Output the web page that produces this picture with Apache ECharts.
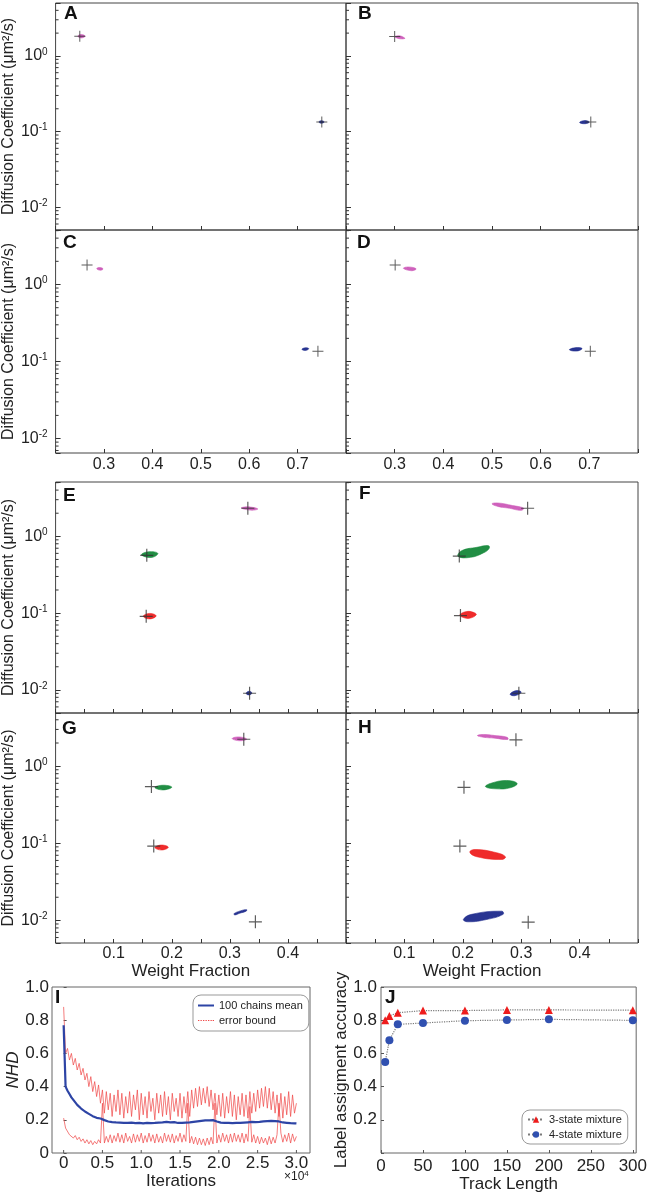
<!DOCTYPE html>
<html><head><meta charset="utf-8">
<script src="https://cdn.jsdelivr.net/npm/echarts@6/dist/echarts.min.js"></script>
<style>html,body{margin:0;padding:0;background:#fff}#c{width:650px;height:1194px}</style>
</head><body><div id="c"></div>
<script>
// ---------- DATA ----------
// True values (+) per panel: [weight fraction, diffusion coefficient]
const A_truth = [[0.25,1.82],[0.75,0.134]];
const B_truth = [[0.3,1.8],[0.703,0.134]];
const C_truth = [[0.265,1.79],[0.742,0.136]];
const D_truth = [[0.301,1.79],[0.702,0.136]];
const E_truth = [[0.331,2.32],[0.157,0.565],[0.156,0.0908],[0.334,0.00905]];
const F_truth = [[0.311,2.32],[0.194,0.553],[0.196,0.0928],[0.296,0.00905]];
const G_truth = [[0.324,2.24],[0.165,0.545],[0.169,0.0922],[0.344,0.0096]];
const H_truth = [[0.291,2.2],[0.202,0.533],[0.195,0.0922],[0.312,0.0095]];
// Posterior sample clouds, outlines: [weight fraction, diffusion coefficient]
const A_pink  = [[0.246,1.82],[0.253,1.92],[0.261,1.82],[0.253,1.73]];
const A_blue  = [[0.744,0.134],[0.749,0.139],[0.755,0.134],[0.749,0.129]];
const B_pink  = [[0.300,1.8],[0.31,1.84],[0.319,1.75],[0.321,1.70],[0.312,1.68],[0.303,1.74]];
const B_blue  = [[0.68,0.132],[0.688,0.139],[0.698,0.137],[0.699,0.131],[0.688,0.127]];
const C_pink  = [[0.285,1.6],[0.29,1.66],[0.298,1.6],[0.293,1.53]];
const C_blue  = [[0.709,0.144],[0.716,0.151],[0.723,0.147],[0.716,0.139]];
const D_pink  = [[0.318,1.62],[0.328,1.69],[0.344,1.6],[0.335,1.51]];
const D_blue  = [[0.659,0.142],[0.67,0.151],[0.685,0.148],[0.675,0.137]];
const E_pink  = [[0.32,2.33],[0.33,2.42],[0.348,2.28],[0.338,2.19]];
const E_green = [[0.148,0.575],[0.16,0.63],[0.176,0.6],[0.165,0.53]];
const E_red   = [[0.151,0.091],[0.162,0.099],[0.173,0.092],[0.162,0.084]];
const E_blue  = [[0.328,0.009],[0.333,0.0096],[0.338,0.0091],[0.333,0.0086]];
const F_pink  = [[0.25,2.65],[0.26,2.72],[0.285,2.52],[0.304,2.33],[0.3,2.18],[0.28,2.32],[0.26,2.45]];
const F_green = [[0.192,0.548],[0.198,0.65],[0.224,0.719],[0.244,0.756],[0.245,0.692],[0.235,0.607],[0.213,0.532]];
const F_red   = [[0.195,0.095],[0.207,0.105],[0.22,0.101],[0.223,0.095],[0.212,0.086],[0.2,0.088]];
const F_blue  = [[0.281,0.0088],[0.292,0.0098],[0.3,0.0093],[0.289,0.0084]];
const G_pink  = [[0.304,2.28],[0.315,2.4],[0.329,2.25],[0.317,2.14]];
const G_green = [[0.171,0.53],[0.185,0.567],[0.2,0.535],[0.185,0.493]];
const G_red   = [[0.171,0.088],[0.182,0.095],[0.194,0.089],[0.183,0.082]];
const G_blue  = [[0.307,0.0122],[0.318,0.0133],[0.329,0.0138],[0.328,0.0132],[0.317,0.0124],[0.309,0.0118]];
const H_pink  = [[0.225,2.5],[0.235,2.58],[0.255,2.5],[0.276,2.37],[0.277,2.22],[0.255,2.31],[0.235,2.38]];
const H_green = [[0.239,0.541],[0.247,0.597],[0.275,0.653],[0.293,0.597],[0.281,0.525],[0.258,0.509]];
const H_red   = [[0.212,0.0769],[0.221,0.0832],[0.258,0.0755],[0.273,0.067],[0.267,0.0618],[0.224,0.067]];
const H_blue  = [[0.201,0.0103],[0.215,0.012],[0.267,0.0132],[0.269,0.012],[0.241,0.0103],[0.209,0.0096]];
// log-axis minor tick values
const logMinorTicks = [0.006,0.007,0.008,0.009,0.02,0.03,0.04,0.05,0.06,0.07,0.08,0.09,0.2,0.3,0.4,0.5,0.6,0.7,0.8,0.9,2,3,4,5];

// Panel I
const iterTicks = [0,5000,10000,15000,20000,25000,30000];
const iterations = [0,250,500,750,1000,1250,1500,1750,2000,2250,
2500,2750,3000,3250,3500,3750,4000,4250,4500,4750,
5000,5250,5500,5750,6000,6250,6500,6750,7000,7250,
7500,7750,8000,8250,8500,8750,9000,9250,9500,9750,
10000,10250,10500,10750,11000,11250,11500,11750,12000,12250,
12500,12750,13000,13250,13500,13750,14000,14250,14500,14750,
15000,15250,15500,15750,16000,16250,16500,16750,17000,17250,
17500,17750,18000,18250,18500,18750,19000,19250,19500,19750,
20000,20250,20500,20750,21000,21250,21500,21750,22000,22250,
22500,22750,23000,23250,23500,23750,24000,24250,24500,24750,
25000,25250,25500,25750,26000,26250,26500,26750,27000,27250,
27500,27750,28000,28250,28500,28750,29000,29250,29500,29750,
30000];
const nhdMean = [0.77,0.40,0.375,0.355,0.335,0.32,0.305,0.29,0.28,0.268,
0.258,0.25,0.242,0.236,0.228,0.222,0.218,0.212,0.206,0.208,
0.2,0.198,0.194,0.19,0.192,0.186,0.19,0.184,0.188,0.183,
0.186,0.182,0.187,0.181,0.185,0.183,0.188,0.18,0.184,0.182,
0.186,0.179,0.185,0.182,0.187,0.18,0.184,0.181,0.186,0.183,
0.18,0.185,0.182,0.188,0.181,0.184,0.179,0.186,0.183,0.181,
0.185,0.182,0.187,0.183,0.186,0.184,0.189,0.187,0.192,0.19,
0.195,0.193,0.198,0.196,0.2,0.197,0.195,0.198,0.192,0.19,
0.186,0.183,0.187,0.181,0.185,0.182,0.186,0.18,0.184,0.182,
0.185,0.181,0.186,0.183,0.18,0.185,0.182,0.187,0.183,0.186,
0.184,0.188,0.186,0.191,0.188,0.192,0.189,0.193,0.19,0.192,
0.188,0.19,0.186,0.184,0.187,0.182,0.185,0.18,0.183,0.179,
0.178];
const nhdUpper = [0.88,0.6,0.63,0.56,0.6,0.53,0.57,0.5,0.54,0.47,
0.51,0.44,0.48,0.4,0.46,0.37,0.43,0.34,0.41,0.3,
0.38,0.24,0.37,0.26,0.36,0.22,0.35,0.25,0.38,0.23,
0.36,0.21,0.34,0.24,0.37,0.22,0.35,0.26,0.38,0.2,
0.36,0.23,0.34,0.21,0.37,0.25,0.33,0.2,0.36,0.24,
0.35,0.22,0.37,0.23,0.34,0.2,0.36,0.25,0.33,0.22,
0.36,0.21,0.34,0.24,0.37,0.22,0.38,0.27,0.39,0.28,
0.4,0.29,0.39,0.3,0.4,0.28,0.38,0.26,0.36,0.23,
0.35,0.22,0.36,0.21,0.34,0.24,0.37,0.22,0.35,0.2,
0.34,0.23,0.36,0.22,0.35,0.21,0.37,0.24,0.36,0.25,
0.38,0.27,0.39,0.28,0.4,0.27,0.39,0.26,0.37,0.24,
0.35,0.22,0.36,0.21,0.34,0.23,0.37,0.22,0.35,0.24,
0.3];
const nhdLower = [0.21,0.15,0.14,0.11,0.12,0.09,0.105,0.08,0.095,0.07,
0.085,0.06,0.08,0.055,0.075,0.05,0.07,0.055,0.08,0.06,
0.3,0.06,0.1,0.065,0.11,0.06,0.105,0.07,0.12,0.065,
0.11,0.06,0.12,0.07,0.1,0.06,0.115,0.065,0.11,0.07,
0.12,0.06,0.105,0.065,0.12,0.07,0.11,0.06,0.115,0.065,
0.1,0.06,0.12,0.07,0.11,0.065,0.115,0.06,0.105,0.07,
0.12,0.065,0.11,0.07,0.3,0.06,0.1,0.055,0.095,0.05,
0.09,0.05,0.085,0.045,0.09,0.05,0.095,0.055,0.3,0.06,
0.11,0.065,0.12,0.07,0.11,0.06,0.115,0.065,0.12,0.07,
0.11,0.065,0.12,0.06,0.115,0.07,0.28,0.065,0.11,0.06,
0.1,0.055,0.095,0.06,0.09,0.05,0.1,0.055,0.095,0.06,
0.11,0.3,0.12,0.065,0.11,0.07,0.12,0.06,0.115,0.07,
0.1];

// Panel J
const trackLength = [5,10,20,50,100,150,200,300];
const acc3state = [0.80,0.826,0.845,0.858,0.858,0.862,0.862,0.86];
const acc4state = [0.548,0.679,0.775,0.783,0.797,0.801,0.805,0.799];

// ---------- STYLE / LAYOUT ----------
const FONT = '"Liberation Sans", Arial, Helvetica, sans-serif';
const TXT = '#222';
const COL = {pink:'#cc58b8', green:'#15883a', red:'#ee2020', blue:'#1e2a8c'};
const PLUS = 'path://M4.55,0H5.45V10H4.55Z M0,4.55H10V5.45H0Z';
const YNAME = 'Diffusion Coefficient (μm²/s)';

const panels = [
 {L:'A', g:{left:53,top:3,width:293,height:227},  xr:[0.2,0.8,0.1], yr:[0.005,5], yl:true,  xl:false, xn:'', ps:11, c:{pink:A_pink, blue:A_blue}, t:A_truth, lab:[64,4]},
 {L:'B', g:{left:346,top:3,width:292,height:227}, xr:[0.2,0.8,0.1], yr:[0.005,5], yl:false, xl:false, xn:'', ps:11, c:{pink:B_pink, blue:B_blue}, t:B_truth, lab:[358,4]},
 {L:'C', g:{left:53,top:230,width:293,height:223},  xr:[0.2,0.8,0.1], yr:[0.0065,5.1], yl:true,  xl:true, xn:'', ps:11, c:{pink:C_pink, blue:C_blue}, t:C_truth, lab:[63,233]},
 {L:'D', g:{left:346,top:230,width:292,height:223}, xr:[0.2,0.8,0.1], yr:[0.0065,5.1], yl:false, xl:true, xn:'', ps:11, c:{pink:D_pink, blue:D_blue}, t:D_truth, lab:[357,233]},
 {L:'E', g:{left:53,top:482,width:293,height:231},  xr:[0,0.5,0.05], yr:[0.005,5.1], yl:true,  xl:false, xn:'', ps:13, c:{pink:E_pink, green:E_green, red:E_red, blue:E_blue}, t:E_truth, lab:[63,486]},
 {L:'F', g:{left:346,top:482,width:292,height:231}, xr:[0,0.5,0.05], yr:[0.005,5.1], yl:false, xl:false, xn:'', ps:13, c:{pink:F_pink, green:F_green, red:F_red, blue:F_blue}, t:F_truth, lab:[359,484]},
 {L:'G', g:{left:53,top:713,width:293,height:230},  xr:[0,0.5,0.05], yr:[0.0051,4.9], yl:true,  xl:true, xn:'Weight Fraction', ps:13, c:{pink:G_pink, green:G_green, red:G_red, blue:G_blue}, t:G_truth, lab:[62,719]},
 {L:'H', g:{left:346,top:713,width:292,height:230}, xr:[0,0.5,0.05], yr:[0.0051,4.9], yl:false, xl:true, xn:'Weight Fraction', ps:13, c:{pink:H_pink, green:H_green, red:H_red, blue:H_blue}, t:H_truth, lab:[358,718]}
];

const grids = [], xAxes = [], yAxes = [], series = [], graphics = [];

function xFmt(p){
  if (p.xr[2] === 0.1) return v => (v > 0.21 && v < 0.79) ? v.toFixed(1) : '';
  return v => { const t = Math.round(v*20); return (t % 2 === 0 && t > 0 && t < 10) ? (t/20).toFixed(1) : ''; };
}
function logFmt(v){
  const l = Math.log10(v), e = Math.round(l);
  if (Math.abs(l - e) > 1e-6) return '';
  return '{b|10}{s|' + e + '}';
}

panels.forEach((p, i) => {
  grids.push(Object.assign({show:true, borderColor:'#444', borderWidth:1, backgroundColor:'transparent'}, p.g));
  xAxes.push({gridIndex:i, type:'value', min:p.xr[0], max:p.xr[1], interval:p.xr[2],
    axisLine:{show:false}, splitLine:{show:false},
    axisTick:{show:true, inside:true, length:4, lineStyle:{color:'#333'}},
    axisLabel:{show:p.xl, formatter:xFmt(p), fontSize:16, color:TXT, fontFamily:FONT, margin:p.xr[2]===0.1?4:3},
    name:p.xn, nameLocation:'middle', nameGap:15,
    nameTextStyle:{fontSize:17, color:TXT, fontFamily:FONT, padding:[0,20,0,0]}});
  yAxes.push({gridIndex:i, type:'log', logBase:10, min:p.yr[0], max:p.yr[1],
    axisLine:{show:false}, splitLine:{show:false}, minorTick:{show:false},
    axisTick:{show:true, inside:true, length:5, lineStyle:{color:'#333'}},
    axisLabel:{show:p.yl, formatter:logFmt, margin:8,
      rich:{b:{fontSize:16, color:TXT, fontFamily:FONT, lineHeight:18},
            s:{fontSize:10, color:TXT, fontFamily:FONT, lineHeight:10, verticalAlign:'top'}}},
    name:p.yl ? YNAME : '', nameLocation:'middle', nameGap:31,
    nameTextStyle:{fontSize:16, color:TXT, fontFamily:FONT}});
  // minor log ticks drawn through the axis scale
  series.push({type:'custom', xAxisIndex:i, yAxisIndex:i, silent:true, clip:false, z:1,
    data: logMinorTicks.filter(v => v > p.yr[0]*1.0001 && v < p.yr[1]*0.9999).map(v => [p.xr[0], v]),
    renderItem:(params, api) => {
      const pt = api.coord([api.value(0), api.value(1)]);
      return {type:'line', shape:{x1:pt[0], y1:pt[1], x2:pt[0]+3, y2:pt[1]}, style:{stroke:'#333', lineWidth:1}};
    }});
  // sample clouds: outlines mapped through the axes
  Object.keys(p.c).forEach(k => {
    const poly = p.c[k];
    series.push({type:'custom', xAxisIndex:i, yAxisIndex:i, silent:true, z:2, data:poly,
      renderItem:(params, api) => {
        if (params.dataIndex !== 0) return null;
        const pts = poly.map(v => api.coord(v));
        return {type:'polygon', shape:{points:pts, smooth:0.45},
          style:{fill:COL[k], stroke:COL[k], lineWidth:0.6, opacity:0.95}};
      }});
  });
  series.push({type:'scatter', xAxisIndex:i, yAxisIndex:i, data:p.t, symbol:PLUS, symbolSize:p.ps,
    itemStyle:{color:'#333'}, silent:true, z:3});
  graphics.push({type:'text', left:p.lab[0], top:p.lab[1], z:10,
    style:{text:p.L, font:'bold 19px ' + FONT, fill:'#111'}});
});

// Panel I (index 8)
grids.push({show:true, left:52, top:987, width:258, height:166, borderColor:'#666', borderWidth:1});
xAxes.push({gridIndex:8, type:'value', min:-1500, max:31750, interval:250,
  axisLine:{show:false}, splitLine:{show:false}, axisTick:{show:false},
  axisLabel:{formatter: v => (v >= 0 && v % 5000 === 0) ? (v === 0 ? '0' : (v/1e4).toFixed(1)) : '',
    fontSize:17, color:TXT, fontFamily:FONT, margin:2},
  name:'Iterations', nameLocation:'middle', nameGap:20,
  nameTextStyle:{fontSize:17, color:TXT, fontFamily:FONT}});
yAxes.push({gridIndex:8, type:'value', min:0, max:1, interval:0.2,
  axisLine:{show:false}, splitLine:{show:false},
  axisTick:{show:true, inside:true, length:3, lineStyle:{color:'#555'}},
  axisLabel:{formatter: v => v === 0 ? '0' : v.toFixed(1), fontSize:17, color:TXT, fontFamily:FONT, margin:3},
  name:'NHD', nameLocation:'middle', nameGap:30,
  nameTextStyle:{fontSize:17, fontStyle:'italic', color:TXT, fontFamily:FONT}});
// x ticks of panel I at the labelled iterations
series.push({type:'custom', xAxisIndex:8, yAxisIndex:8, silent:true, clip:false, z:1,
  data: iterTicks.map(v => [v, 0]),
  renderItem:(params, api) => {
    const pt = api.coord([api.value(0), api.value(1)]);
    return {type:'line', shape:{x1:pt[0], y1:pt[1], x2:pt[0], y2:pt[1]-3}, style:{stroke:'#555', lineWidth:1}};
  }});
const zip = (xs, ys) => xs.map((x, k) => [x, ys[k]]);
const RED = '#f04848';
series.push({name:'error bound', type:'line', xAxisIndex:8, yAxisIndex:8, data:zip(iterations, nhdUpper),
  showSymbol:false, symbol:'none', lineStyle:{color:RED, width:0.8, opacity:0.9}, itemStyle:{color:RED}, z:2, silent:true});
series.push({name:'error bound', type:'line', xAxisIndex:8, yAxisIndex:8, data:zip(iterations, nhdLower),
  showSymbol:false, symbol:'none', lineStyle:{color:RED, width:0.8, opacity:0.9}, itemStyle:{color:RED}, z:2, silent:true});
series.push({name:'100 chains mean', type:'line', xAxisIndex:8, yAxisIndex:8, data:zip(iterations, nhdMean),
  showSymbol:false, symbol:'none', lineStyle:{color:'#2d44a5', width:2.2}, itemStyle:{color:'#2d44a5'}, z:3, silent:true});

// Panel J (index 9)
grids.push({show:true, left:381, top:987, width:257, height:166, borderColor:'#666', borderWidth:1});
xAxes.push({gridIndex:9, type:'value', min:0, max:304, interval:50,
  axisLine:{show:false}, splitLine:{show:false},
  axisTick:{show:true, inside:true, length:3, lineStyle:{color:'#555'}},
  axisLabel:{formatter: v => (v % 50 === 0) ? String(v) : '', showMaxLabel:false, fontSize:17, color:TXT, fontFamily:FONT, margin:5},
  name:'Track Length', nameLocation:'middle', nameGap:21,
  nameTextStyle:{fontSize:17, color:TXT, fontFamily:FONT}});
yAxes.push({gridIndex:9, type:'value', min:0, max:1, interval:0.2,
  axisLine:{show:false}, splitLine:{show:false},
  axisTick:{show:true, inside:true, length:3, lineStyle:{color:'#555'}},
  axisLabel:{formatter: v => v === 0 ? '' : v.toFixed(1), fontSize:17, color:TXT, fontFamily:FONT, margin:4},
  name:'Label assigment accuracy', nameLocation:'middle', nameGap:30,
  nameTextStyle:{fontSize:17, color:TXT, fontFamily:FONT}});
series.push({name:'3-state mixture', type:'line', xAxisIndex:9, yAxisIndex:9, data:zip(trackLength, acc3state),
  symbol:'triangle', symbolSize:8, itemStyle:{color:'#ee1c1c'}, lineStyle:{color:'#7a7a7a', width:1.2, type:'dotted'}, z:3, silent:true});
series.push({name:'4-state mixture', type:'line', xAxisIndex:9, yAxisIndex:9, data:zip(trackLength, acc4state),
  symbol:'circle', symbolSize:8, itemStyle:{color:'#3050b0'}, lineStyle:{color:'#7a7a7a', width:1.2, type:'dotted'}, z:3, silent:true});

graphics.push({type:'text', left:55, top:988, z:10, style:{text:'I', font:'bold 19px ' + FONT, fill:'#111'}});
graphics.push({type:'text', left:385, top:988, z:10, style:{text:'J', font:'bold 19px ' + FONT, fill:'#111'}});
graphics.push({type:'text', left:284, top:1170, z:10, style:{text:'{a|×10}{s|4}',
  rich:{a:{fontSize:12, fill:TXT, fontFamily:FONT, lineHeight:14}, s:{fontSize:8, fill:TXT, fontFamily:FONT, lineHeight:8, verticalAlign:'top'}}}});

const ICON_LINE = 'path://M0,0h0.01v0.01h-0.01z M0,3.1h16v1.8h-16z M15.99,7.99h0.01v0.01h-0.01z';
const ICON_DOT = 'path://M0,0h0.01v0.01h-0.01z M0,3.5h1.3v1h-1.3z M2.5,3.5h1.3v1h-1.3z M5,3.5h1.3v1h-1.3z M7.5,3.5h1.3v1h-1.3z M10,3.5h1.3v1h-1.3z M12.5,3.5h1.3v1h-1.3z M14.7,3.5h1.3v1h-1.3z M15.99,7.99h0.01v0.01h-0.01z';
const legendText = {fontSize:11, color:TXT, fontFamily:FONT};
const option = {
  animation:false,
  backgroundColor:'#fff',
  textStyle:{fontFamily:FONT},
  grid:grids, xAxis:xAxes, yAxis:yAxes, series:series, graphic:graphics,
  legend:[
    {data:[{name:'100 chains mean', icon:ICON_LINE},{name:'error bound', icon:ICON_DOT}],
     orient:'vertical', left:193, top:995, itemWidth:16, itemHeight:8, itemGap:4,
     padding:[5,6,5,5], borderColor:'#999', borderWidth:1, borderRadius:8, backgroundColor:'#fff', textStyle:legendText, selectedMode:false},
    {data:['3-state mixture','4-state mixture'], orient:'vertical', left:522, top:1110, itemWidth:16, itemHeight:8, itemGap:4,
     padding:[4,6,4,5], borderColor:'#999', borderWidth:1, borderRadius:8, backgroundColor:'#fff', textStyle:legendText, selectedMode:false}
  ]
};
const chart = echarts.init(document.getElementById('c'), null, {renderer:'canvas', width:650, height:1194});
chart.setOption(option);
</script></body></html>
